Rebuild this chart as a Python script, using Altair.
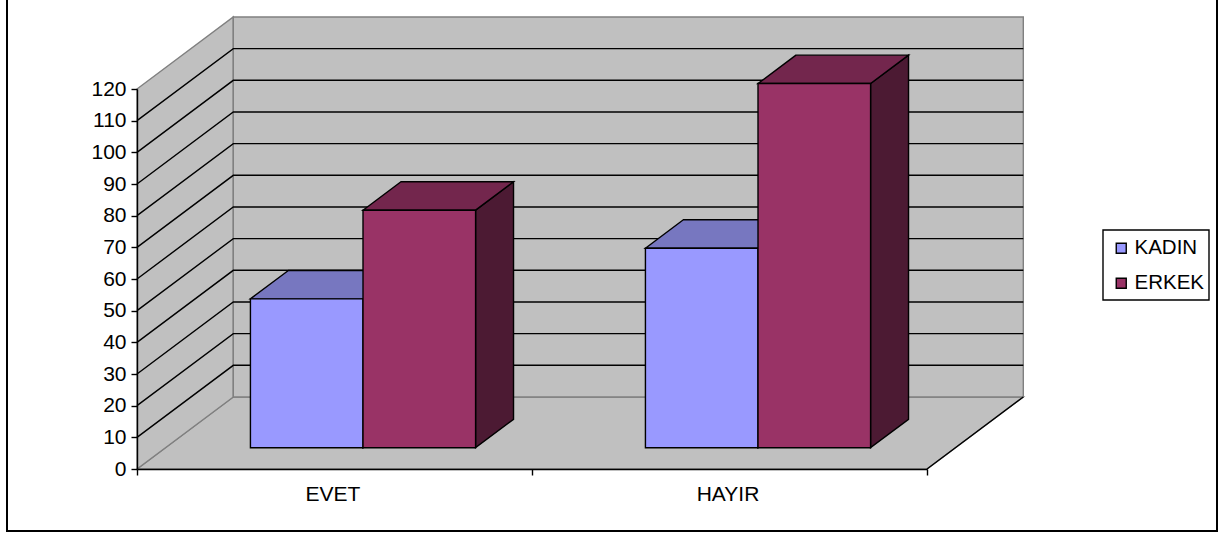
import altair as alt
import pandas as pd

# Survey answers by group
categories = ["EVET", "HAYIR"]
series = ["KADIN", "ERKEK"]
kadin_values = [47, 63]
erkek_values = [75, 115]
value_ticks = list(range(0, 130, 10))

front_colors = ["#9999FF", "#993366"]
top_colors = ["#7777C0", "#73264D"]
side_colors = ["#4D4D80", "#4C1A33"]
wall_fill = "#C0C0C0"
wall_edge = "#808080"
FONT = "Liberation Sans"

# Oblique projection: depth is a shift in category units and in value units
DEPTH_X = 0.2438
DEPTH_Y = 22.74
BAR_FRONT, BAR_BACK = 0.296, 0.69
BAR_INSET, BAR_MID, BAR_OUTER = 0.215, 0.5, 0.785
LINE = 1.4

x_scale = alt.Scale(domain=[0, 2], nice=False, zero=False)
y_scale = alt.Scale(domain=[0, 120], nice=False, zero=False)

# Both axes sit on the front plane of the box, above the walls and bars
x_axis = alt.Axis(
    values=[0, 0.5, 1, 1.5, 2],
    labelExpr="datum.value == 0.5 ? '%s' : datum.value == 1.5 ? '%s' : ''" % tuple(categories),
    tickOpacity={"expr": "datum.value % 1 == 0 ? 1 : 0"},
    tickColor="black", tickSize=6, tickWidth=LINE,
    domainColor="black", domainWidth=LINE, grid=False,
    labelFont=FONT, labelFontSize=21, labelColor="black", labelPadding=8, labelOffset=-2,
    labelOverlap=False, labelFlush=False, zindex=1,
)
y_axis = alt.Axis(
    values=value_ticks,
    tickColor="black", tickSize=6, tickWidth=LINE,
    domainColor="black", domainWidth=LINE, grid=False,
    labelFont=FONT, labelFontSize=21, labelColor="black", labelPadding=5,
    labelOverlap=False, labelFlush=False, zindex=1,
)
X = lambda f: alt.X(f, type="quantitative", scale=x_scale, title=None, axis=x_axis)
Y = lambda f: alt.Y(f, type="quantitative", scale=y_scale, title=None, axis=y_axis)


def across(rows, fill, stroke, width=LINE):
    """Parallelograms with horizontal top and bottom edges."""
    return alt.Chart(pd.DataFrame(rows)).mark_area(
        orient="horizontal", fill=fill, stroke=stroke, strokeWidth=width, clip=False
    ).encode(y=Y("y"), x=X("x"), x2="x2:Q", detail="face:N")


def upright(rows, fill, stroke, width=LINE):
    """Parallelograms with vertical left and right edges."""
    return alt.Chart(pd.DataFrame(rows)).mark_area(
        orient="vertical", fill=fill, stroke=stroke, strokeWidth=width, clip=False
    ).encode(x=X("x"), y=Y("y"), y2="y2:Q", detail="face:N")


def flat_face(face, x0, x1, y, t0, t1):
    return [
        {"face": face, "y": y + t * DEPTH_Y, "x": x0 + t * DEPTH_X, "x2": x1 + t * DEPTH_X}
        for t in (t0, t1)
    ]


def side_face(face, x, y0, y1, t0, t1):
    return [
        {"face": face, "x": x + t * DEPTH_X, "y": y1 + t * DEPTH_Y, "y2": y0 + t * DEPTH_Y}
        for t in (t0, t1)
    ]


# Outer chart frame, its top edge running off the canvas
frame = alt.Chart(pd.DataFrame({"a": [0]})).mark_rect(
    fill="white", stroke="black", strokeWidth=2, clip=False
).encode(x=alt.value(-130), x2=alt.value(1080), y=alt.value(-100), y2=alt.value(442))

# Box behind the legend entries
legend_box = alt.Chart(pd.DataFrame({"a": [0]})).mark_rect(
    fill="white", stroke="black", strokeWidth=LINE, clip=False
).encode(x=alt.value(966), x2=alt.value(1072), y=alt.value(141), y2=alt.value(211))

# Floor, left wall and back wall
floor = across(flat_face("floor", 0, 2, 0, 0, 1), wall_fill, wall_edge)
left_wall = upright(side_face("left", 0, 0, 120, 0, 1), wall_fill, wall_edge)
back_wall = alt.Chart(pd.DataFrame([{
    "x": DEPTH_X, "x2": 2 + DEPTH_X, "y": DEPTH_Y, "y2": 120 + DEPTH_Y
}])).mark_rect(fill=wall_fill, stroke=wall_edge, strokeWidth=LINE, clip=False).encode(
    x=X("x"), x2="x2:Q", y=Y("y"), y2="y2:Q"
)

# Gridlines running across both walls
grid_rows = []
for v in value_ticks[1:-1]:
    grid_rows += [
        {"v": v, "i": 0, "x": 0, "y": v},
        {"v": v, "i": 1, "x": DEPTH_X, "y": v + DEPTH_Y},
        {"v": v, "i": 2, "x": 2 + DEPTH_X, "y": v + DEPTH_Y},
    ]
grid = alt.Chart(pd.DataFrame(grid_rows)).mark_line(
    color="black", strokeWidth=LINE, clip=False
).encode(x=X("x"), y=Y("y"), detail="v:N", order="i:Q")

# Right edge of the floor
edge_rows = [
    {"x": 2, "y": 0},
    {"x": 2 + DEPTH_X, "y": DEPTH_Y},
]
floor_edge = alt.Chart(pd.DataFrame(edge_rows)).mark_line(
    color="black", strokeWidth=LINE, clip=False
).encode(x=X("x"), y=Y("y"))

# Bars, one series at a time so the later one hides the earlier one's side
bar_layers = []
for s, (name, values) in enumerate(zip(series, [kadin_values, erkek_values])):
    left = BAR_INSET if s == 0 else BAR_MID
    right = BAR_MID if s == 0 else BAR_OUTER
    tops, sides, fronts = [], [], []
    for c, v in enumerate(values):
        face = f"{name}-{c}"
        tops += flat_face(face, c + left, c + right, v, BAR_FRONT, BAR_BACK)
        sides += side_face(face, c + right, 0, v, BAR_FRONT, BAR_BACK)
        fronts.append({
            "series": name,
            "x": c + left + BAR_FRONT * DEPTH_X,
            "x2": c + right + BAR_FRONT * DEPTH_X,
            "y": BAR_FRONT * DEPTH_Y,
            "y2": v + BAR_FRONT * DEPTH_Y,
        })
    bar_layers.append(upright(sides, side_colors[s], "black"))
    bar_layers.append(across(tops, top_colors[s], "black"))
    bar_layers.append(
        alt.Chart(pd.DataFrame(fronts)).mark_rect(stroke="black", strokeWidth=LINE, clip=False).encode(
            x=X("x"), x2="x2:Q", y=Y("y"), y2="y2:Q",
            color=alt.Color(
                "series:N",
                scale=alt.Scale(domain=series, range=front_colors),
                legend=alt.Legend(
                    orient="none", legendX=966, legendY=141, title=None,
                    symbolType="square", symbolSize=100,
                    symbolStrokeColor="black", symbolStrokeWidth=LINE,
                    labelFont=FONT, labelFontSize=20.5, labelColor="black",
                    padding=8, rowPadding=14, labelOffset=3,
                ),
            ),
        )
    )

chart = alt.layer(
    frame, legend_box, floor, left_wall, back_wall, grid, floor_edge, *bar_layers
).resolve_scale(color="shared").properties(
    width=790, height=380,
    padding={"left": 137, "right": 302, "top": 89, "bottom": 64},
    autosize=alt.AutoSizeParams(type="none"),
    background="white",
).configure_view(stroke=None)

chart.save("out.html", embed_options={"renderer": "svg", "actions": False})
